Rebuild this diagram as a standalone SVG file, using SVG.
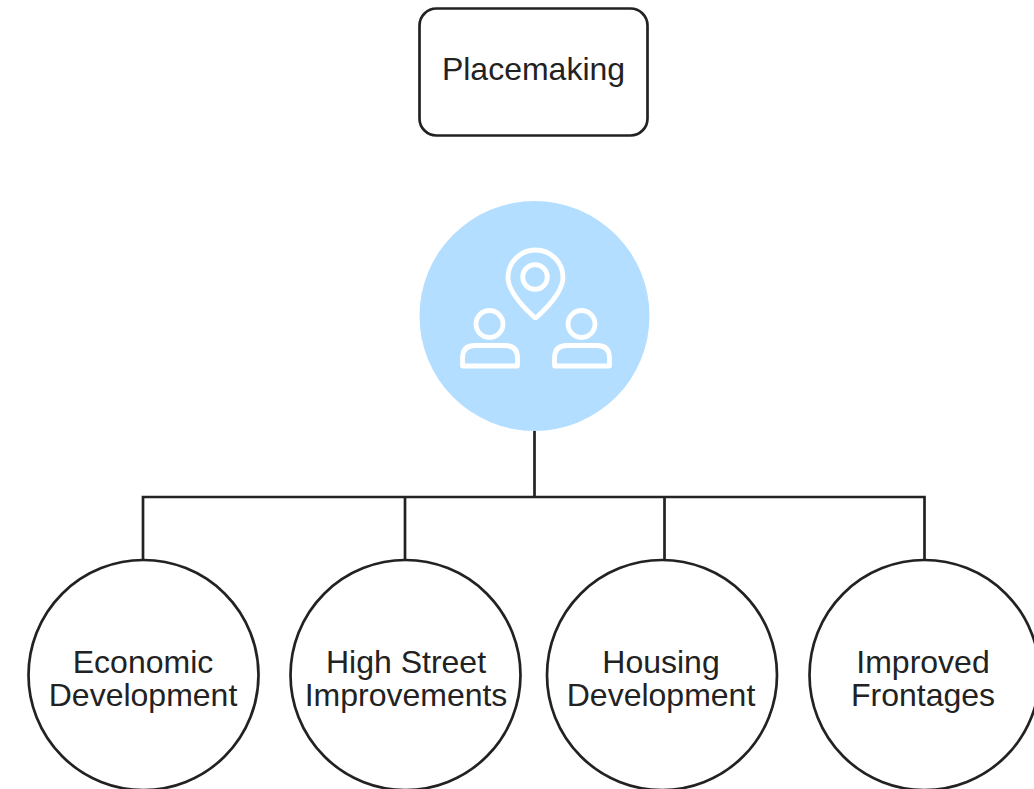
<svg xmlns="http://www.w3.org/2000/svg" width="1034" height="789" viewBox="0 0 1034 789">
<style>
text{font-family:"Liberation Sans",Arial,sans-serif;font-size:32px;fill:#222;text-anchor:middle}
.c{fill:#fff;stroke:#222;stroke-width:2.7}
.l{fill:none;stroke:#222;stroke-width:2.7}
.i{fill:none;stroke:#fff;stroke-width:4.8;stroke-linejoin:round}
</style>
<rect width="1034" height="789" fill="#fff"/>
<g id="connectors">
<path class="l" d="M534.500 430V497M143 560V497H924.500V560M405 497V560M664.500 497V560"/>
</g>
<g id="placemaking"><rect class="c" x="419.500" y="8.500" width="228" height="127" rx="17"/><text x="533.500" y="80">Placemaking</text></g>
<g id="icon-node"><circle cx="534.500" cy="316" r="115" fill="#b3deff"/>
<path class="i" d="M533.500 316.500C520 304 508 290 508 277.500A27.500 27.500 0 0 1 563 277.500C563 290 551 304 537.500 316.500Q535.500 318.500 533.500 316.500Z"/><circle class="i" cx="535" cy="277" r="12.300"/>
<circle class="i" cx="489.500" cy="324" r="13.500"/><path class="i" d="M462.500 366V358Q462.500 345.500 475 345.500H505Q517.500 345.500 517.500 358V366Z"/>
<circle class="i" cx="581.500" cy="324" r="13.500"/><path class="i" d="M554.500 366V358Q554.500 345.500 567 345.500H597Q609.500 345.500 609.500 358V366Z"/></g>
<g id="economic"><circle class="c" cx="143.500" cy="675" r="115"/><text x="143" y="673">Economic</text><text x="143" y="706">Development</text></g>
<g id="high-street"><circle class="c" cx="405.500" cy="675" r="115"/><text x="406" y="673">High Street</text><text x="406" y="706">Improvements</text></g>
<g id="housing"><circle class="c" cx="662" cy="675" r="115"/><text x="661" y="673">Housing</text><text x="661" y="706">Development</text></g>
<g id="frontages"><circle class="c" cx="924.500" cy="675" r="115"/><text x="923" y="673">Improved</text><text x="923" y="706">Frontages</text></g>
</svg>
